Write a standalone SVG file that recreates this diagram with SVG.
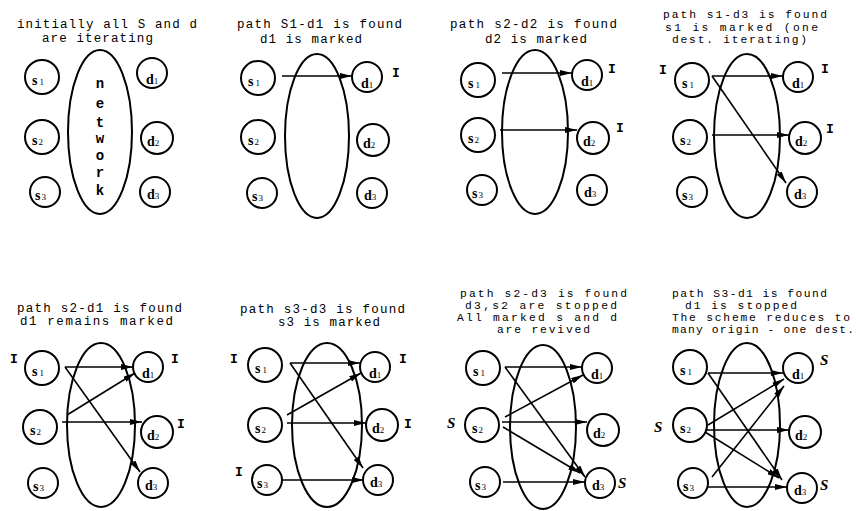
<svg xmlns="http://www.w3.org/2000/svg" width="856" height="511" viewBox="0 0 856 511">
<style>
.bg{fill:#fff}
circle,ellipse{fill:none;stroke:#000;stroke-width:2}
.t{font-family:"Liberation Mono","DejaVu Sans Mono",monospace;font-size:12.5px;fill:#000}
.t4{font-size:11.3px}
.lb{font-family:"Liberation Serif",serif;font-size:14px;font-weight:bold;fill:#000}
.sub{font-size:9px;font-weight:normal}
.nw{font-family:"Liberation Mono",monospace;font-size:14px;font-weight:bold;fill:#000;text-anchor:middle}
.mI{font-family:"Liberation Mono",monospace;font-size:13px;font-weight:bold;fill:#000}
.mS{font-family:"Liberation Serif",serif;font-size:15px;font-weight:bold;font-style:italic;fill:#000}
.c line{stroke:#000;stroke-width:1.6;marker-end:url(#ah)}
</style>
<defs>
<marker id="ah" viewBox="0 0 12 6" refX="12" refY="3" markerWidth="12" markerHeight="6" markerUnits="userSpaceOnUse" orient="auto">
<path d="M0,0 L12,3 L0,6 z" fill="#000"/>
</marker>
</defs>
<rect class="bg" x="0" y="0" width="856" height="511"/>

<g id="titles">
<text class="t" x="17" y="28" textLength="180" lengthAdjust="spacing">initially all S and d</text>
<text class="t" x="42" y="42" textLength="111" lengthAdjust="spacing">are iterating</text>
<text class="t" x="237" y="28" textLength="165" lengthAdjust="spacing">path S1-d1 is found</text>
<text class="t" x="260" y="43" textLength="102" lengthAdjust="spacing">d1 is marked</text>
<text class="t" x="450" y="28" textLength="167" lengthAdjust="spacing">path s2-d2 is found</text>
<text class="t" x="485" y="43" textLength="102" lengthAdjust="spacing">d2 is marked</text>
<text class="t t4" x="663" y="18" textLength="164" lengthAdjust="spacing">path s1-d3 is found</text>
<text class="t t4" x="665" y="31" textLength="153" lengthAdjust="spacing">s1 is marked (one</text>
<text class="t t4" x="672" y="43" textLength="135" lengthAdjust="spacing">dest. iterating)</text>
<text class="t" x="17" y="312" textLength="165" lengthAdjust="spacing">path s2-d1 is found</text>
<text class="t" x="20" y="325" textLength="153" lengthAdjust="spacing">d1 remains marked</text>
<text class="t" x="240" y="313" textLength="165" lengthAdjust="spacing">path s3-d3 is found</text>
<text class="t" x="278" y="326" textLength="102" lengthAdjust="spacing">s3 is marked</text>
<text class="t t4" x="460" y="297" textLength="167" lengthAdjust="spacing">path s2-d3 is found</text>
<text class="t t4" x="465" y="309" textLength="152" lengthAdjust="spacing">d3,s2 are stopped</text>
<text class="t t4" x="457" y="321" textLength="160" lengthAdjust="spacing">All marked s and d</text>
<text class="t t4" x="497" y="333" textLength="93" lengthAdjust="spacing">are revived</text>
<text class="t t4" x="672" y="297" textLength="155" lengthAdjust="spacing">path S3-d1 is found</text>
<text class="t t4" x="685" y="309" textLength="112" lengthAdjust="spacing">d1 is stopped</text>
<text class="t t4" x="672" y="321" textLength="178" lengthAdjust="spacing">The scheme reduces to</text>
<text class="t t4" x="672" y="333" textLength="182" lengthAdjust="spacing">many origin - one dest.</text>
</g>

<!-- panel 1 -->
<g id="p1-net"><ellipse cx="100" cy="132" rx="32" ry="82"/>
<text class="nw" x="100" y="88">n</text><text class="nw" x="100" y="108">e</text><text class="nw" x="100" y="127">t</text><text class="nw" x="100" y="143">w</text><text class="nw" x="100" y="160">o</text><text class="nw" x="100" y="177">r</text><text class="nw" x="100" y="195">k</text></g>
<g id="p1-s1"><circle cx="42" cy="77" r="17"/><text class="lb" x="32" y="85">s<tspan class="sub" dx="2">1</tspan></text></g>
<g id="p1-s2"><circle cx="42" cy="137" r="17"/><text class="lb" x="32" y="145">s<tspan class="sub" dx="1">2</tspan></text></g>
<g id="p1-s3"><circle cx="45" cy="192" r="15"/><text class="lb" x="35" y="200">s<tspan class="sub" dx="1">3</tspan></text></g>
<g id="p1-d1"><circle cx="152" cy="73" r="15"/><text class="lb" x="146" y="84">d<tspan class="sub">1</tspan></text></g>
<g id="p1-d2"><circle cx="157" cy="138" r="16"/><text class="lb" x="147" y="146">d<tspan class="sub">2</tspan></text></g>
<g id="p1-d3"><circle cx="155" cy="192" r="15"/><text class="lb" x="147" y="199">d<tspan class="sub">3</tspan></text></g>

<!-- panel 2 -->
<g id="p2-net"><ellipse cx="317" cy="136" rx="32" ry="82"/></g>
<g id="p2-s1"><circle cx="258" cy="78" r="17"/><text class="lb" x="248" y="86">s<tspan class="sub" dx="2">1</tspan></text></g>
<g id="p2-s2"><circle cx="258" cy="137" r="17"/><text class="lb" x="248" y="145">s<tspan class="sub" dx="1">2</tspan></text></g>
<g id="p2-s3"><circle cx="262" cy="193" r="15"/><text class="lb" x="252" y="201">s<tspan class="sub" dx="1">3</tspan></text></g>
<g id="p2-d1"><circle cx="367" cy="77" r="15"/><text class="lb" x="361" y="88">d<tspan class="sub">1</tspan></text><text class="mI" x="392" y="77">I</text></g>
<g id="p2-d2"><circle cx="373" cy="140" r="16"/><text class="lb" x="363" y="148">d<tspan class="sub">2</tspan></text></g>
<g id="p2-d3"><circle cx="372" cy="193" r="15"/><text class="lb" x="364" y="200">d<tspan class="sub">3</tspan></text></g>

<!-- panel 3 -->
<g id="p3-net"><ellipse cx="535" cy="132" rx="33" ry="82"/></g>
<g id="p3-s1"><circle cx="478" cy="80" r="17"/><text class="lb" x="468" y="88">s<tspan class="sub" dx="2">1</tspan></text></g>
<g id="p3-s2"><circle cx="478" cy="135" r="17"/><text class="lb" x="468" y="143">s<tspan class="sub" dx="1">2</tspan></text></g>
<g id="p3-s3"><circle cx="482" cy="190" r="15"/><text class="lb" x="472" y="198">s<tspan class="sub" dx="1">3</tspan></text></g>
<g id="p3-d1"><circle cx="587" cy="75" r="15"/><text class="lb" x="581" y="86">d<tspan class="sub">1</tspan></text><text class="mI" x="608" y="73">I</text></g>
<g id="p3-d2"><circle cx="593" cy="138" r="16"/><text class="lb" x="583" y="146">d<tspan class="sub">2</tspan></text><text class="mI" x="616" y="132">I</text></g>
<g id="p3-d3"><circle cx="592" cy="190" r="15"/><text class="lb" x="584" y="197">d<tspan class="sub">3</tspan></text></g>

<!-- panel 4 -->
<g id="p4-net"><ellipse cx="747" cy="136" rx="33" ry="82"/></g>
<g id="p4-s1"><circle cx="692" cy="80" r="17"/><text class="lb" x="682" y="88">s<tspan class="sub" dx="2">1</tspan></text><text class="mI" x="659" y="74">I</text></g>
<g id="p4-s2"><circle cx="690" cy="137" r="17"/><text class="lb" x="680" y="145">s<tspan class="sub" dx="1">2</tspan></text></g>
<g id="p4-s3"><circle cx="692" cy="192" r="15"/><text class="lb" x="682" y="200">s<tspan class="sub" dx="1">3</tspan></text></g>
<g id="p4-d1"><circle cx="798" cy="77" r="15"/><text class="lb" x="792" y="88">d<tspan class="sub">1</tspan></text><text class="mI" x="821" y="73">I</text></g>
<g id="p4-d2"><circle cx="805" cy="138" r="16"/><text class="lb" x="795" y="146">d<tspan class="sub">2</tspan></text><text class="mI" x="826" y="133">I</text></g>
<g id="p4-d3"><circle cx="802" cy="192" r="15"/><text class="lb" x="794" y="199">d<tspan class="sub">3</tspan></text></g>

<!-- panel 5 -->
<g id="p5-net"><ellipse cx="101" cy="425" rx="34" ry="82"/></g>
<g id="p5-s1"><circle cx="42" cy="368" r="17"/><text class="lb" x="32" y="376">s<tspan class="sub" dx="2">1</tspan></text><text class="mI" x="10" y="363">I</text></g>
<g id="p5-s2"><circle cx="40" cy="427" r="17"/><text class="lb" x="30" y="435">s<tspan class="sub" dx="1">2</tspan></text></g>
<g id="p5-s3"><circle cx="43" cy="483" r="15"/><text class="lb" x="33" y="491">s<tspan class="sub" dx="1">3</tspan></text></g>
<g id="p5-d1"><circle cx="148" cy="367" r="15"/><text class="lb" x="142" y="378">d<tspan class="sub">1</tspan></text><text class="mI" x="171" y="363">I</text></g>
<g id="p5-d2"><circle cx="157" cy="432" r="16"/><text class="lb" x="147" y="440">d<tspan class="sub">2</tspan></text><text class="mI" x="177" y="428">I</text></g>
<g id="p5-d3"><circle cx="153" cy="483" r="15"/><text class="lb" x="145" y="490">d<tspan class="sub">3</tspan></text></g>

<!-- panel 6 -->
<g id="p6-net"><ellipse cx="327" cy="425" rx="35" ry="82"/></g>
<g id="p6-s1"><circle cx="265" cy="365" r="17"/><text class="lb" x="255" y="373">s<tspan class="sub" dx="2">1</tspan></text><text class="mI" x="230" y="363">I</text></g>
<g id="p6-s2"><circle cx="265" cy="425" r="17"/><text class="lb" x="255" y="433">s<tspan class="sub" dx="1">2</tspan></text></g>
<g id="p6-s3"><circle cx="267" cy="480" r="15"/><text class="lb" x="257" y="488">s<tspan class="sub" dx="1">3</tspan></text><text class="mI" x="235" y="476">I</text></g>
<g id="p6-d1"><circle cx="375" cy="367" r="15"/><text class="lb" x="369" y="378">d<tspan class="sub">1</tspan></text><text class="mI" x="399" y="363">I</text></g>
<g id="p6-d2"><circle cx="382" cy="425" r="16"/><text class="lb" x="372" y="433">d<tspan class="sub">2</tspan></text><text class="mI" x="404" y="428">I</text></g>
<g id="p6-d3"><circle cx="378" cy="480" r="15"/><text class="lb" x="370" y="487">d<tspan class="sub">3</tspan></text></g>

<!-- panel 7 -->
<g id="p7-net"><ellipse cx="543" cy="427" rx="33" ry="82"/></g>
<g id="p7-s1"><circle cx="483" cy="368" r="17"/><text class="lb" x="473" y="376">s<tspan class="sub" dx="2">1</tspan></text></g>
<g id="p7-s2"><circle cx="482" cy="425" r="17"/><text class="lb" x="472" y="433">s<tspan class="sub" dx="1">2</tspan></text><text class="mS" x="447" y="428">S</text></g>
<g id="p7-s3"><circle cx="485" cy="482" r="15"/><text class="lb" x="475" y="490">s<tspan class="sub" dx="1">3</tspan></text></g>
<g id="p7-d1"><circle cx="597" cy="368" r="15"/><text class="lb" x="591" y="379">d<tspan class="sub">1</tspan></text></g>
<g id="p7-d2"><circle cx="603" cy="430" r="16"/><text class="lb" x="593" y="438">d<tspan class="sub">2</tspan></text></g>
<g id="p7-d3"><circle cx="600" cy="483" r="15"/><text class="lb" x="592" y="490">d<tspan class="sub">3</tspan></text><text class="mS" x="618" y="488">S</text></g>

<!-- panel 8 -->
<g id="p8-net"><ellipse cx="747" cy="425" rx="33" ry="82"/></g>
<g id="p8-s1"><circle cx="690" cy="367" r="17"/><text class="lb" x="680" y="375">s<tspan class="sub" dx="2">1</tspan></text></g>
<g id="p8-s2"><circle cx="690" cy="425" r="17"/><text class="lb" x="680" y="433">s<tspan class="sub" dx="1">2</tspan></text><text class="mS" x="654" y="432">S</text></g>
<g id="p8-s3"><circle cx="693" cy="483" r="15"/><text class="lb" x="683" y="491">s<tspan class="sub" dx="1">3</tspan></text></g>
<g id="p8-d1"><circle cx="798" cy="368" r="15"/><text class="lb" x="792" y="379">d<tspan class="sub">1</tspan></text><text class="mS" x="820" y="365">S</text></g>
<g id="p8-d2"><circle cx="805" cy="432" r="16"/><text class="lb" x="795" y="440">d<tspan class="sub">2</tspan></text></g>
<g id="p8-d3"><circle cx="802" cy="488" r="15"/><text class="lb" x="794" y="495">d<tspan class="sub">3</tspan></text><text class="mS" x="820" y="490">S</text></g>

<g id="connectors" class="c">
<line x1="282" y1="76" x2="352" y2="76"/>
<line x1="502" y1="73" x2="572" y2="73"/>
<line x1="500" y1="130" x2="577" y2="130"/>
<line x1="712" y1="76" x2="783" y2="76"/>
<line x1="712" y1="135" x2="789" y2="135"/>
<line x1="712" y1="76" x2="786" y2="183"/>
<line x1="65" y1="367" x2="133" y2="367"/>
<line x1="67" y1="415" x2="135" y2="373"/>
<line x1="62" y1="422" x2="142" y2="422"/>
<line x1="65" y1="367" x2="140" y2="472"/>
<line x1="290" y1="363" x2="360" y2="363"/>
<line x1="290" y1="363" x2="363" y2="468"/>
<line x1="287" y1="415" x2="361" y2="373"/>
<line x1="287" y1="423" x2="366" y2="423"/>
<line x1="282" y1="480" x2="364" y2="480"/>
<line x1="505" y1="367" x2="582" y2="367"/>
<line x1="505" y1="367" x2="585" y2="477"/>
<line x1="505" y1="417" x2="583" y2="375"/>
<line x1="502" y1="422" x2="587" y2="422"/>
<line x1="503" y1="427" x2="580" y2="473"/>
<line x1="503" y1="482" x2="585" y2="482"/>
<line x1="708" y1="373" x2="783" y2="373"/>
<line x1="708" y1="373" x2="782" y2="480"/>
<line x1="708" y1="425" x2="784" y2="379"/>
<line x1="705" y1="430" x2="789" y2="430"/>
<line x1="705" y1="432" x2="779" y2="478"/>
<line x1="712" y1="477" x2="784" y2="386"/>
<line x1="708" y1="487" x2="787" y2="487"/>
</g>
</svg>
